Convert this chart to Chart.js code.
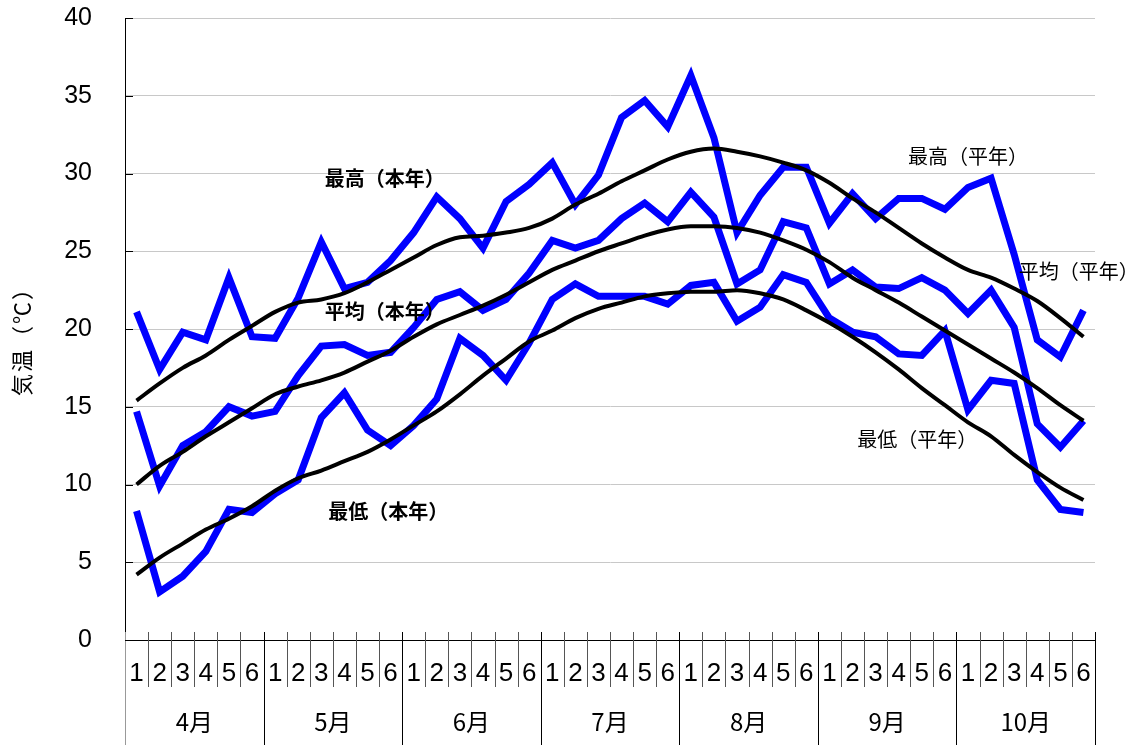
<!DOCTYPE html>
<html><head><meta charset="utf-8">
<script src="https://cdn.jsdelivr.net/npm/chart.js@4"></script>
<style>html,body{margin:0;padding:0;background:#fff}#wrap{width:1142px;height:745px}</style>
</head><body><div id="wrap"><canvas id="c" width="1142" height="745"></canvas></div>
<script>
const months = ['4月','5月','6月','7月','8月','9月','10月'];
const pentads = ['1','2','3','4','5','6'];
const tickLabels = months.flatMap(() => pentads);
const yTicks = [0,5,10,15,20,25,30,35,40];

const maxThisYear = [21.1,17.4,19.8,19.3,23.3,19.5, 19.4,22.0,25.6,22.6,23.0,24.4, 26.2,28.5,27.1,25.2,28.2,29.3, 30.7,28.0,29.9,33.6,34.7,33.0, 36.3,32.3,26.2,28.6,30.4,30.4, 26.8,28.7,27.1,28.4,28.4,27.7, 29.1,29.7,24.8,19.3,18.2,21.2];
const meanThisYear = [14.7,9.9,12.5,13.4,15.0,14.4, 14.7,17.0,18.9,19.0,18.3,18.5, 20.1,21.9,22.4,21.2,21.9,23.6, 25.7,25.2,25.7,27.1,28.1,26.9, 28.8,27.2,22.9,23.8,26.9,26.5, 22.9,23.8,22.7,22.6,23.3,22.5, 21.0,22.5,20.1,13.9,12.4,14.1];
const minThisYear = [8.3,3.1,4.1,5.7,8.4,8.2, 9.4,10.3,14.3,15.9,13.5,12.5, 13.8,15.5,19.4,18.3,16.7,19.1, 21.9,22.9,22.1,22.1,22.1,21.6, 22.8,23.0,20.5,21.4,23.5,23.0, 20.7,19.8,19.5,18.4,18.3,19.9, 14.8,16.7,16.5,10.3,8.4,8.2];
const maxNormal = [15.4,16.5,17.5,18.3,19.3,20.2, 21.1,21.7,21.9,22.3,23.0,23.8, 24.6,25.4,25.9,26.0,26.2,26.5, 27.1,28.0,28.7,29.5,30.2,30.9, 31.4,31.6,31.4,31.1,30.7,30.2, 29.4,28.4,27.5,26.5,25.5,24.6, 23.8,23.3,22.6,21.8,20.7,19.5];
const meanNormal = [10.0,11.2,12.1,13.1,14.0,14.9, 15.8,16.3,16.7,17.2,17.9,18.6, 19.5,20.3,20.9,21.5,22.2,23.0, 23.8,24.4,25.0,25.5,26.0,26.4, 26.6,26.6,26.5,26.2,25.7,25.1, 24.3,23.3,22.5,21.7,20.8,19.9, 19.0,18.1,17.2,16.2,15.1,14.1];
const minNormal = [4.2,5.3,6.2,7.1,7.8,8.6, 9.6,10.4,10.9,11.5,12.1,12.9, 13.8,14.7,15.8,17.0,18.1,19.2, 19.9,20.7,21.3,21.7,22.1,22.3, 22.4,22.4,22.5,22.3,21.9,21.2, 20.4,19.5,18.5,17.4,16.2,15.1, 14.0,13.1,11.9,10.8,9.8,9.0];

const seriesNames = ['最高（本年）','平均（本年）','最低（本年）','最高（平年）','平均（平年）','最低（平年）'];
// annotation anchors in data units (category index, °C)
const annotations = [
  {text: seriesNames[0], at: [10.75, 29.7], bold: true},
  {text: seriesNames[1], at: [10.75, 21.1], bold: true},
  {text: seriesNames[2], at: [10.9, 8.3], bold: true},
  {text: seriesNames[3], at: [36.0, 31.1], bold: false},
  {text: seriesNames[4], at: [40.8, 23.7], bold: false},
  {text: seriesNames[5], at: [33.8, 12.9], bold: false}
];
const yTitle = '気温（℃）';

const blue = {borderColor:'#0000ff', borderWidth:7, tension:0, pointRadius:0, fill:false, order:1, borderJoinStyle:'miter'};
const black = {borderColor:'#000000', borderWidth:4, tension:0.4, cubicInterpolationMode:'monotone', pointRadius:0, fill:false, order:0};

const decor = {
  id:'decor',
  afterDraw(chart){
    const {ctx, chartArea:a, scales:{x,y}} = chart;
    const n = tickLabels.length;
    ctx.save();
    for (let k=0;k<=n;k++){
      const px = Math.round(x.getPixelForValue(k-0.5))+0.5;
      const isMonth = k % pentads.length === 0;
      ctx.beginPath();
      ctx.strokeStyle = k===0 ? '#999' : (isMonth ? '#000' : '#555');
      ctx.lineWidth = 1;
      ctx.moveTo(px, a.bottom-8);
      ctx.lineTo(px, isMonth ? 745 : a.bottom+47);
      ctx.stroke();
    }
    yTicks.forEach(v=>{
      const py = Math.round(y.getPixelForValue(v))+0.5;
      ctx.beginPath(); ctx.strokeStyle='#000'; ctx.lineWidth=1;
      ctx.moveTo(a.left, py); ctx.lineTo(a.left+8, py); ctx.stroke();
    });
    ctx.save();
    ctx.translate(22, 336);
    ctx.rotate(-Math.PI/2);
    ctx.font = '22px "Noto Sans CJK JP"';
    try { ctx.letterSpacing = '2px'; } catch(e) {}
    ctx.fillStyle = '#000'; ctx.textAlign='center'; ctx.textBaseline='middle';
    ctx.fillText(yTitle, 0, 0);
    ctx.restore();
    annotations.forEach(an=>{
      ctx.font = (an.bold ? 'bold ' : '') + '20px "Noto Sans CJK JP"';
      try { ctx.letterSpacing = '0px'; } catch(e) {}
      ctx.fillStyle = '#000'; ctx.textAlign='center'; ctx.textBaseline='middle';
      ctx.fillText(an.text, x.getPixelForValue(an.at[0]), y.getPixelForValue(an.at[1]));
    });
    ctx.restore();
  }
};

new Chart(document.getElementById('c'), {
  type:'line',
  data:{
    labels: tickLabels,
    datasets:[
      Object.assign({label:seriesNames[0], data:maxThisYear}, blue),
      Object.assign({label:seriesNames[1], data:meanThisYear}, blue),
      Object.assign({label:seriesNames[2], data:minThisYear}, blue),
      Object.assign({label:seriesNames[3], data:maxNormal}, black),
      Object.assign({label:seriesNames[4], data:meanNormal}, black),
      Object.assign({label:seriesNames[5], data:minNormal}, black)
    ]
  },
  options:{
    responsive:false, animation:false, devicePixelRatio:1,
    layout:{padding:{top:18, right:47, left:0, bottom:0}},
    plugins:{legend:{display:false}, tooltip:{enabled:false}},
    scales:{
      x:{
        type:'category', position:'bottom', offset:true, weight:0,
        grid:{display:false, offset:true},
        border:{display:true, color:'#000', width:1},
        ticks:{autoSkip:false, maxRotation:0, minRotation:0, padding:10, color:'#000',
               font:{family:'"Liberation Sans Narrow", "Liberation Sans", sans-serif', size:26}},
        afterFit(s){ s.height = 50; s.paddingLeft = 0; s.paddingRight = 0; }
      },
      x2:{
        type:'category', axis:'x', position:'bottom', offset:true, weight:1, labels: months,
        grid:{display:false}, border:{display:false},
        ticks:{autoSkip:false, maxRotation:0, minRotation:0, padding:9, color:'#000',
               font:{family:'"Noto Sans CJK JP", sans-serif', size:24}},
        afterFit(s){ s.height = 55; s.paddingLeft = 0; s.paddingRight = 0; }
      },
      y:{
        min:0, max:40,
        ticks:{stepSize:5, padding:33, color:'#000', font:{family:'"Liberation Sans", Arial, sans-serif', size:25}},
        grid:{color:'#c8c8c8', drawTicks:false, lineWidth:1},
        border:{display:true, color:'#000', width:1},
        afterFit(s){ s.width = 125; s.paddingTop = 0; s.paddingBottom = 0; }
      }
    }
  },
  plugins:[decor]
});
</script></body></html>
